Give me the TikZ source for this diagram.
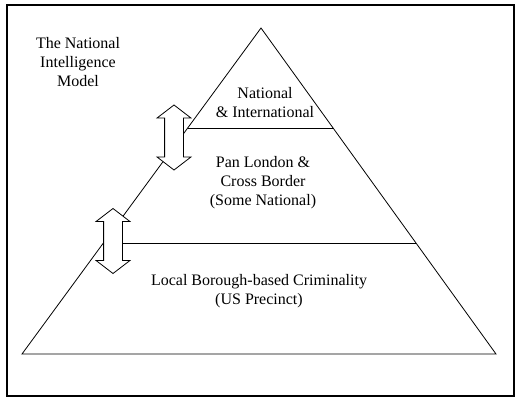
\documentclass[tikz,border=0pt]{standalone}
\usepackage{fontspec}
\setmainfont{Liberation Serif}
\usepackage{tikz}
\usetikzlibrary{shapes.arrows,calc}
\tikzset{PYlabel/.style={align=center,inner sep=0pt,font=\fontsize{16}{19}\selectfont},
	PYarrow/.style={shape=double arrow,draw,fill=white,rotate=90,line width=.8pt,
		inner xsep=0pt,inner ysep=9pt,minimum height=65pt,
		double arrow head extend=7.5pt,double arrow tip angle=105}}

\begin{document}
\begin{tikzpicture}[x=1pt,y=-1pt]
	\useasboundingbox (0,0) rectangle (518,401);
	\draw[line width=1.4pt] (7,5) rectangle (514,396);
	%
	\coordinate (Top) at (261,28);
	\coordinate (BL) at (22,354);
	\coordinate (BR) at (496,354);
	\coordinate (L1) at ($(Top)!.307!(BL)$);
	\coordinate (R1) at ($(Top)!.307!(BR)$);
	\coordinate (L2) at ($(Top)!.66!(BL)$);
	\coordinate (R2) at ($(Top)!.66!(BR)$);
	%
	\draw[line width=.8pt] (Top) -- (BL) -- (BR) -- cycle;
	\draw[line width=.8pt] (L1) -- (R1) (L2) -- (R2);
	%
	\node[PYlabel] (title) at (78,62) {The National\\Intelligence\\Model};
	\node[PYlabel] (nat) at (265,103) {National\\\& International};
	\node[PYlabel] (pan) at (263,183) {Pan London \&\\Cross Border\\(Some National)};
	\node[PYlabel] (loc) at (259,291) {Local Borough-based Criminality\\(US Precinct)};
	%
	\node[PYarrow] (up) at (174,137.5) {};
	\node[PYarrow] (low) at (113,241) {};
\end{tikzpicture}
\end{document}
